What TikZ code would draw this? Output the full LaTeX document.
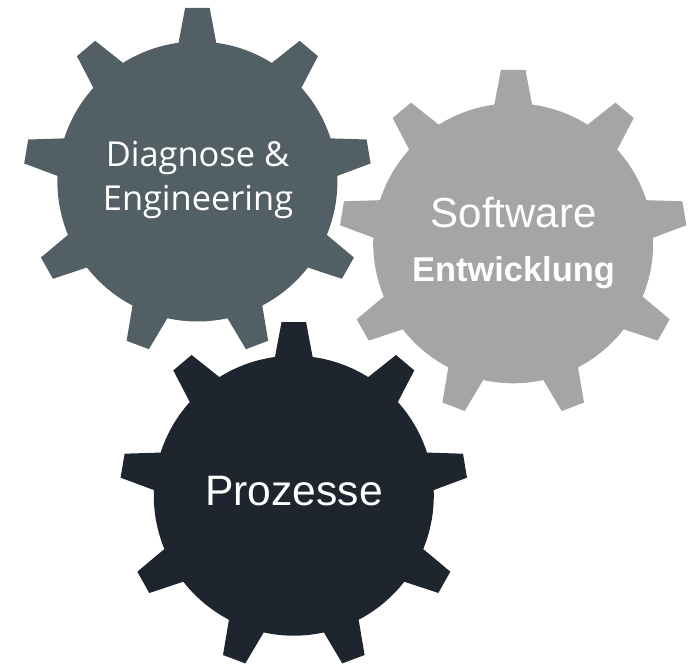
\documentclass[tikz,border=0pt]{standalone}
\usepackage{fontspec}
\setmainfont{Liberation Sans}
\newfontfamily\opensans{Open Sans}
\definecolor{gearslate}{HTML}{526066}
\definecolor{geargrey}{HTML}{A5A5A5}
\definecolor{geardark}{HTML}{1E252F}
\newcommand{\cogpath}{(-12.3,173.5) -- (12.3,173.5) -- (82.27:140)
  arc[start angle=82.27,end angle=57.9,radius=140] -- (102.2,140.7) -- (120.5,125.3) -- (42:140)
  arc[start angle=42,end angle=17.94,radius=140] -- (169.2,42) -- (173.2,18) -- (2.3:140)
  arc[start angle=2.3,end angle=-22.4,radius=140] -- (156.5,-76) -- (144.5,-97.3) -- (-37.9:140)
  arc[start angle=-37.9,end angle=-62.4,radius=140] -- (70.8,-159.3) -- (48.5,-167.7) -- (-77.6:140)
  arc[start angle=-77.6,end angle=-102.4,radius=140] -- (-48.5,-167.7) -- (-70.8,-159.3) -- (-117.6:140)
  arc[start angle=-117.6,end angle=-142.1,radius=140] -- (-144.5,-97.3) -- (-156.5,-76) -- (-157.6:140)
  arc[start angle=-157.6,end angle=-182.3,radius=140] -- (-173.2,18) -- (-169.2,42) -- (162.06:140)
  arc[start angle=162.06,end angle=138,radius=140] -- (-120.5,125.3) -- (-102.2,140.7) -- (122.1:140)
  arc[start angle=122.1,end angle=97.73,radius=140] -- cycle}
\tikzset{
  gearlabel/.style={text=white,anchor=base,inner sep=0pt,outer sep=0pt},
  gearfill/.style={fill=#1,draw=none}
}
\begin{document}
\begin{tikzpicture}[x=1pt,y=1pt]
\useasboundingbox (0,0) rectangle (700,663);
% gear centres (y measured upward from the page bottom)
\fill[gearfill=gearslate,shift={(197.4,481.5)}] \cogpath;
\fill[gearfill=geargrey,shift={(513.2,419.7)}] \cogpath;
\fill[gearfill=geardark,shift={(293.8,167.3)}] \cogpath;
\node[gearlabel] (diag) at (197.5,496) {\opensans\fontsize{34.4}{40}\selectfont Diagnose \&};
\node[gearlabel] (eng) at (198,452) {\opensans\fontsize{34.4}{40}\selectfont Engineering};
\node[gearlabel] (soft) at (513.6,435.3) {\fontsize{42}{50}\selectfont Software};
\node[gearlabel] (entw) at (513.5,381.3) {\fontsize{34.4}{40}\selectfont\bfseries Entwicklung};
\node[gearlabel] (proz) at (294,157.3) {\fontsize{42.6}{50}\selectfont Prozesse};
\end{tikzpicture}
\end{document}
